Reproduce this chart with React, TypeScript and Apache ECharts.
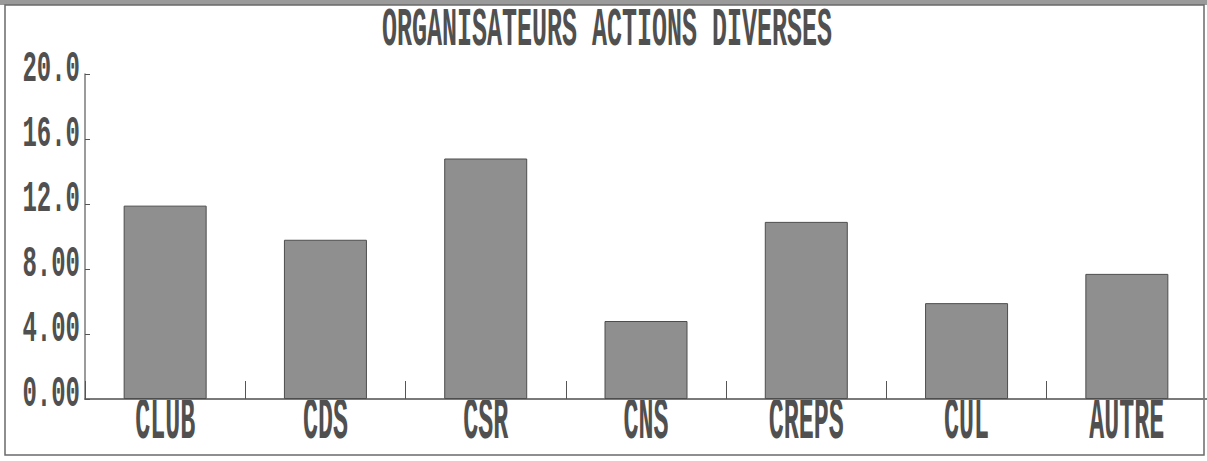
import React, { useEffect, useRef } from "react";
import * as echarts from "echarts";

const chartTitle = "ORGANISATEURS ACTIONS DIVERSES";
const categories = ["CLUB", "CDS", "CSR", "CNS", "CREPS", "CUL", "AUTRE"];
const values = [11.9, 9.8, 14.8, 4.8, 10.9, 5.9, 7.7];
const yTicks = [0, 4, 8, 12, 16, 20];
const yTickLabels = ["0.00", "4.00", "8.00", "12.0", "16.0", "20.0"];

const FONT_FAMILY = "'Liberation Mono', 'DejaVu Sans Mono', monospace";
const TEXT_COLOR = "#505050";

export default function App() {
  const ref = useRef<HTMLDivElement>(null);

  useEffect(() => {
    if (!ref.current) return;
    const chart = echarts.init(ref.current, null, { renderer: "svg" });
    chart.setOption({
      animation: false,
      backgroundColor: "#ffffff",
      grid: { left: 85, top: 74, width: 1125, height: 325, containLabel: false },
      xAxis: {
        type: "category",
        data: categories,
        boundaryGap: true,
        axisLine: { show: true, lineStyle: { color: "#7a7a7a", width: 2 } },
        axisTick: { show: true, inside: true, length: 18, lineStyle: { color: "#555", width: 1 } },
        axisLabel: { show: false },
        splitLine: { show: false },
      },
      yAxis: {
        type: "value",
        min: 0,
        max: 20,
        interval: 4,
        axisLine: { show: true, lineStyle: { color: "#7a7a7a", width: 1.5 } },
        axisTick: { show: true, inside: true, length: 5, lineStyle: { color: "#555" } },
        axisLabel: { show: false },
        splitLine: { show: false },
      },
      series: [
        {
          type: "bar",
          data: values,
          barWidth: 83,
          itemStyle: { color: "#8f8f8f", borderColor: "#4d4d4d", borderWidth: 1 },
        },
      ],
    });

    const graphics: any[] = [
      { type: "rect", shape: { x: 0, y: 0, width: 1207, height: 5 }, style: { fill: "#9a9a9a" }, silent: true },
      {
        type: "rect",
        shape: { x: 5, y: 5, width: 1199, height: 450 },
        style: { fill: "none", stroke: "#6a6a6a", lineWidth: 1.5 },
        silent: true,
      },
      {
        type: "text",
        x: 607,
        y: 31,
        scaleY: 2.15,
        style: {
          text: chartTitle,
          font: `bold 25px ${FONT_FAMILY}`,
          fill: TEXT_COLOR,
          textAlign: "center",
          textVerticalAlign: "middle",
        },
        silent: true,
      },
    ];

    categories.forEach((c) => {
      const px = chart.convertToPixel({ xAxisIndex: 0 }, c) as number;
      graphics.push({
        type: "text",
        x: px,
        y: 422,
        scaleY: 2.4,
        style: {
          text: c,
          font: `bold 25px ${FONT_FAMILY}`,
          fill: TEXT_COLOR,
          textAlign: "center",
          textVerticalAlign: "middle",
        },
        silent: true,
      });
    });

    yTicks.forEach((v, i) => {
      const py = chart.convertToPixel({ yAxisIndex: 0 }, v) as number;
      graphics.push({
        type: "text",
        x: 80,
        y: py - 5,
        scaleY: 1.85,
        style: {
          text: yTickLabels[i],
          font: `bold 24px ${FONT_FAMILY}`,
          fill: TEXT_COLOR,
          textAlign: "right",
          textVerticalAlign: "middle",
        },
        silent: true,
      });
    });

    chart.setOption({ graphic: graphics });

    return () => chart.dispose();
  }, []);

  return (
    <div
      ref={ref}
      style={{ position: "absolute", left: 0, top: 0, width: 1207, height: 461 }}
    />
  );
}
